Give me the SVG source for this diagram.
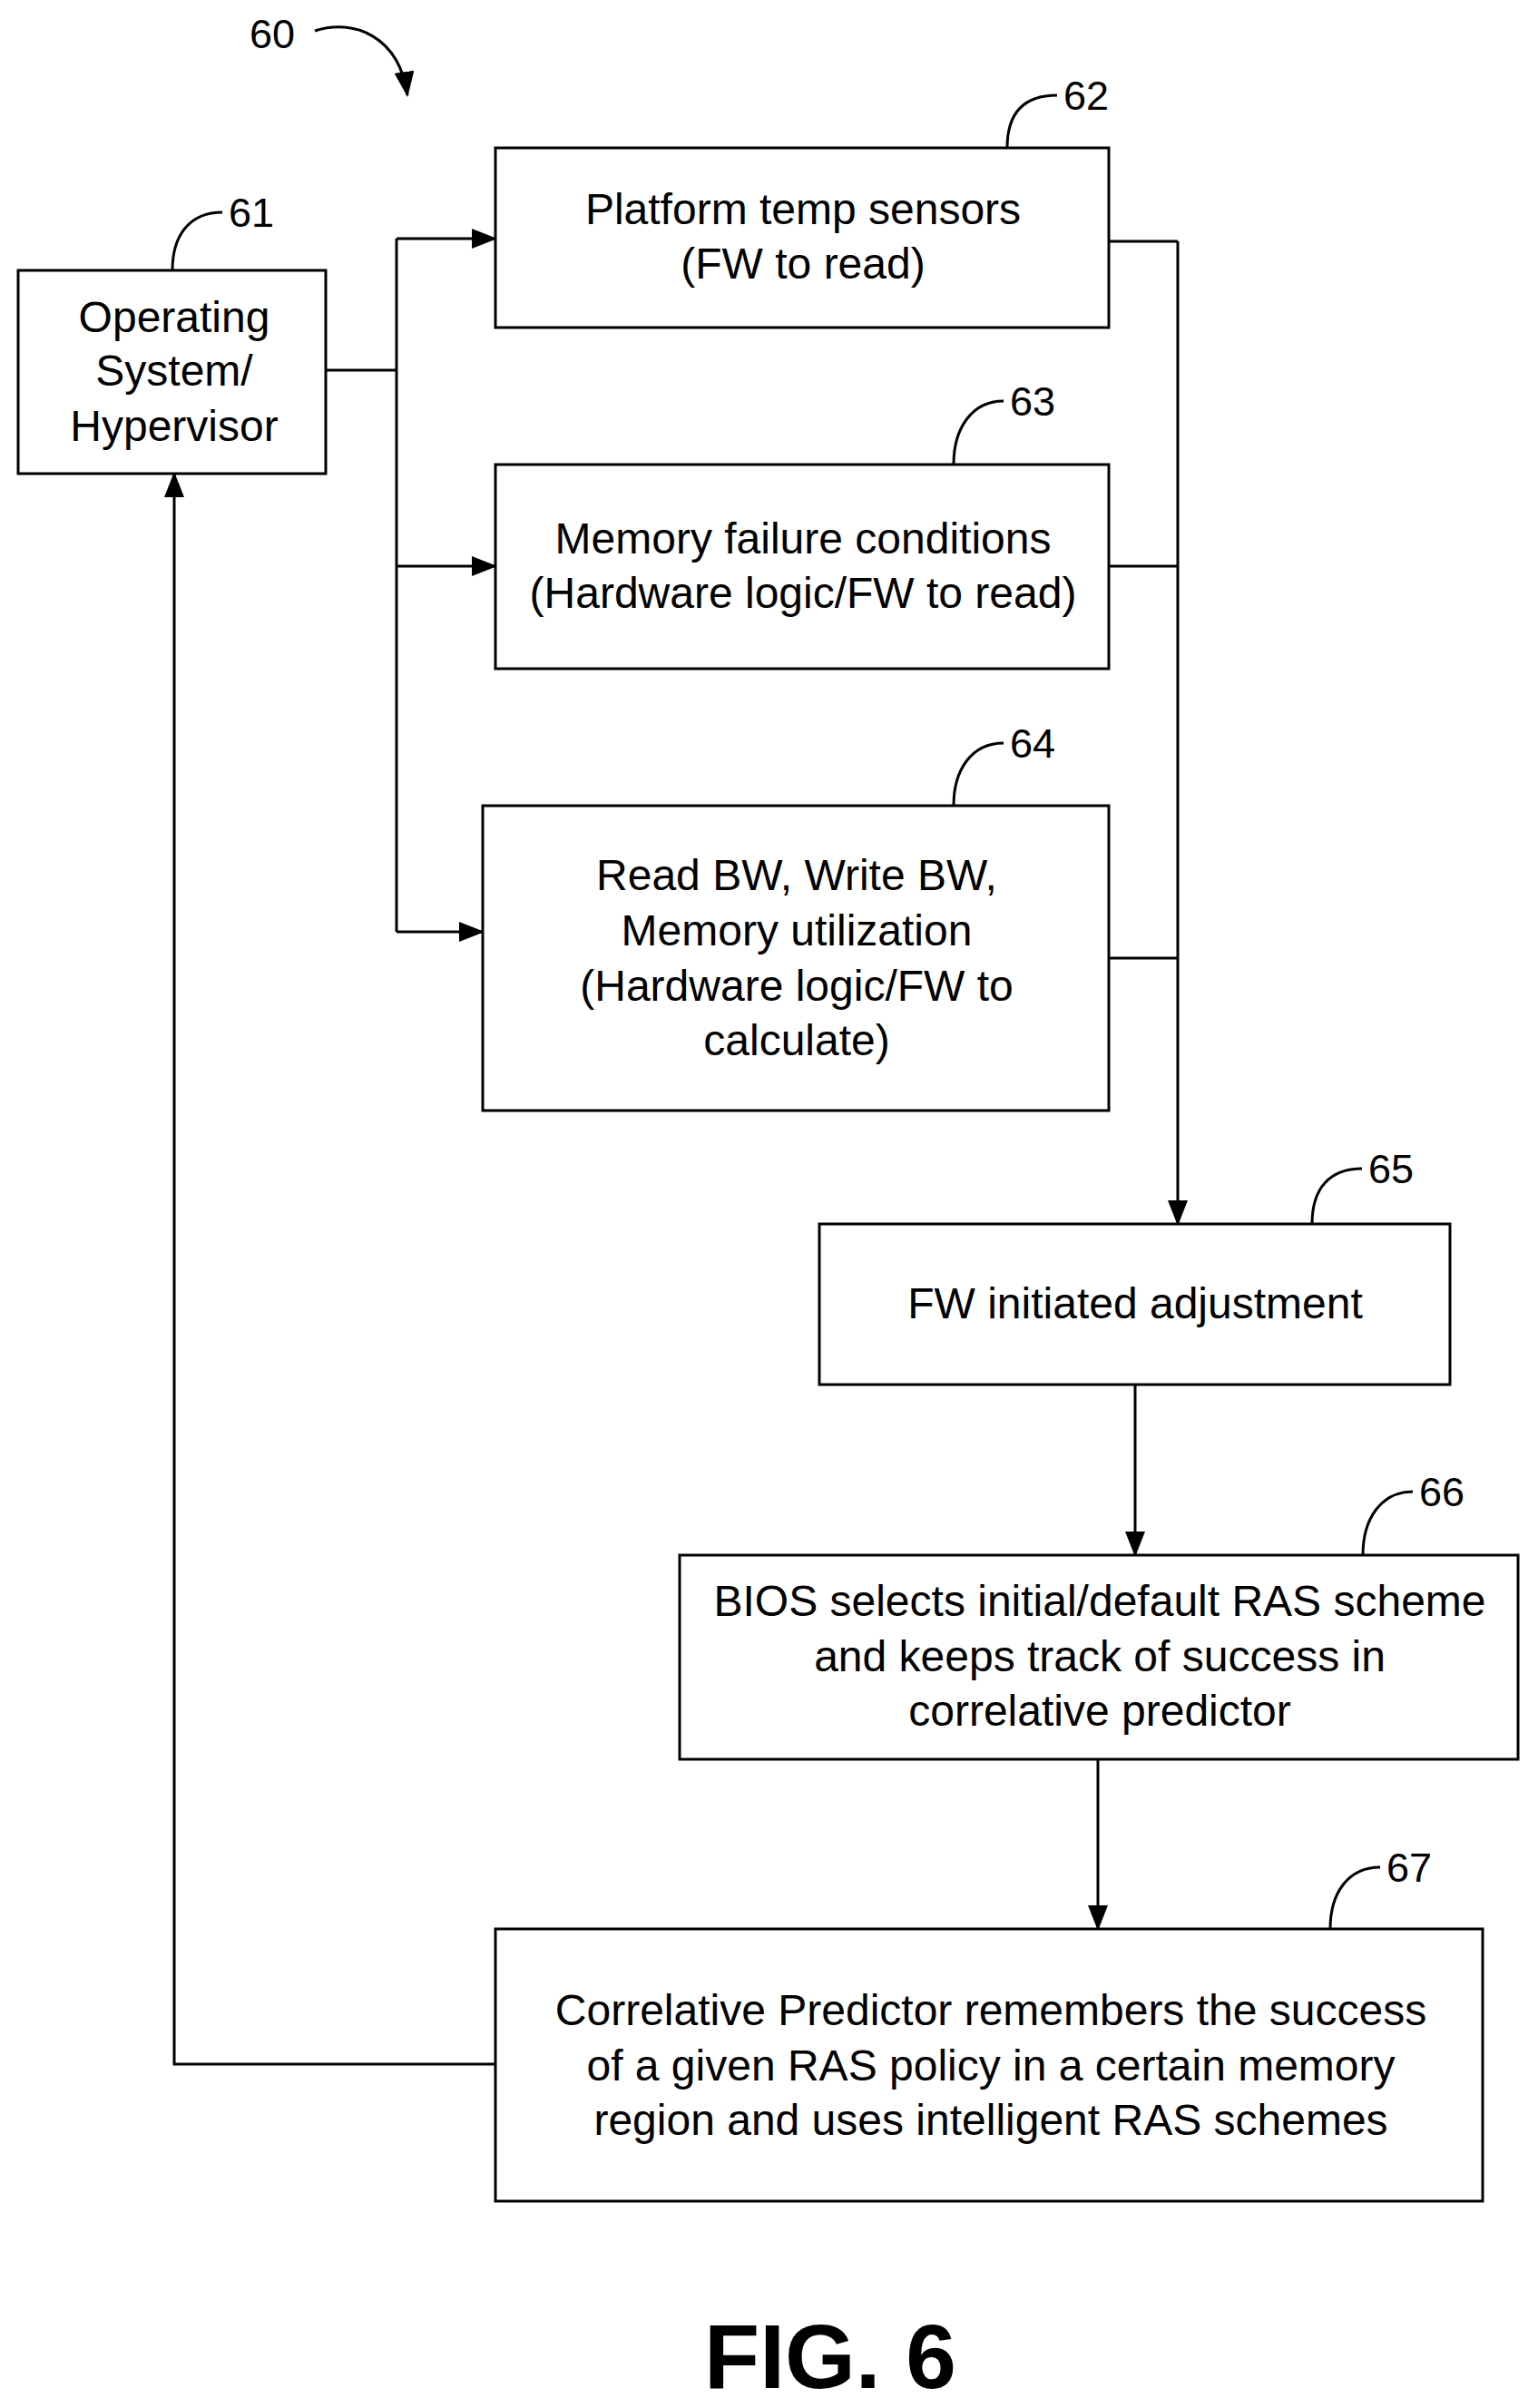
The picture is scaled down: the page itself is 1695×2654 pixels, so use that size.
<svg xmlns="http://www.w3.org/2000/svg" width="1695" height="2654" viewBox="0 0 1695 2654">
<style>
.b{fill:#fff;stroke:#000;stroke-width:3}
.t{font-family:"Liberation Sans",Arial,sans-serif;font-size:48px;text-anchor:middle;dominant-baseline:central;fill:#000}
.n{font-family:"Liberation Sans",Arial,sans-serif;font-size:45px;dominant-baseline:central;fill:#000}
.c{fill:none;stroke:#000;stroke-width:3}
</style>
<defs>
<marker id="A" markerWidth="28" markerHeight="22" refX="26" refY="11" orient="auto" markerUnits="userSpaceOnUse"><path d="M0,0L28,11L0,22z"/></marker></defs>
<g id="connectors" class="c">
<path d="M359,408H437M437,263V1027"/>
<path d="M437,263H546" marker-end="url(#A)"/>
<path d="M437,624H546" marker-end="url(#A)"/>
<path d="M437,1027H532" marker-end="url(#A)"/>
<path d="M1222,266H1298M1222,624H1298M1222,1056H1298"/>
<path d="M1298,266V1349" marker-end="url(#A)"/>
<path d="M1251,1526V1714" marker-end="url(#A)"/>
<path d="M1210,1939V2126" marker-end="url(#A)"/>
<path d="M546,2275H192V522" marker-end="url(#A)"/>
<path d="M347,34C390,20 440,40 449,105" marker-end="url(#A)"/>
</g>
<text class="n" x="275" y="37">60</text>
<g id="n61"><rect class="b" x="20" y="298" width="339" height="224"/><text class="t" x="192" y="349">Operating</text><text class="t" x="192" y="408">System/</text><text class="t" x="192" y="469">Hypervisor</text><path class="c" d="M190,298C190,258 210,234 245,234"/><text class="n" x="252" y="234">61</text></g>
<g id="n62"><rect class="b" x="546" y="163" width="676" height="198"/><text class="t" x="885" y="230">Platform temp sensors</text><text class="t" x="885" y="290">(FW to read)</text><path class="c" d="M1110,163C1110,123 1130,105 1165,105"/><text class="n" x="1172" y="105">62</text></g>
<g id="n63"><rect class="b" x="546" y="512" width="676" height="225"/><text class="t" x="885" y="593">Memory failure conditions</text><text class="t" x="885" y="653">(Hardware logic/FW to read)</text><path class="c" d="M1051,512C1051,472 1071,442 1106,442"/><text class="n" x="1113" y="442">63</text></g>
<g id="n64"><rect class="b" x="532" y="888" width="690" height="336"/><text class="t" x="878" y="964">Read BW, Write BW,</text><text class="t" x="878" y="1025">Memory utilization</text><text class="t" x="878" y="1086">(Hardware logic/FW to</text><text class="t" x="878" y="1146">calculate)</text><path class="c" d="M1051,888C1051,848 1071,819 1106,819"/><text class="n" x="1113" y="819">64</text></g>
<g id="n65"><rect class="b" x="903" y="1349" width="695" height="177"/><text class="t" x="1251" y="1436">FW initiated adjustment</text><path class="c" d="M1446,1349C1446,1309 1466,1288 1501,1288"/><text class="n" x="1508" y="1288">65</text></g>
<g id="n66"><rect class="b" x="749" y="1714" width="924" height="225"/><text class="t" x="1212" y="1764">BIOS selects initial/default RAS scheme</text><text class="t" x="1212" y="1825">and keeps track of success in</text><text class="t" x="1212" y="1885">correlative predictor</text><path class="c" d="M1502,1714C1502,1674 1522,1644 1557,1644"/><text class="n" x="1564" y="1644">66</text></g>
<g id="n67"><rect class="b" x="546" y="2126" width="1088" height="300"/><text class="t" x="1092" y="2215">Correlative Predictor remembers the success</text><text class="t" x="1092" y="2276">of a given RAS policy in a certain memory</text><text class="t" x="1092" y="2336">region and uses intelligent RAS schemes</text><path class="c" d="M1466,2126C1466,2086 1486,2058 1521,2058"/><text class="n" x="1528" y="2058">67</text></g>
<text x="915" y="2632" style="font-family:'Liberation Sans',Arial,sans-serif;font-size:100px;font-weight:bold;text-anchor:middle">FIG. 6</text>
</svg>
